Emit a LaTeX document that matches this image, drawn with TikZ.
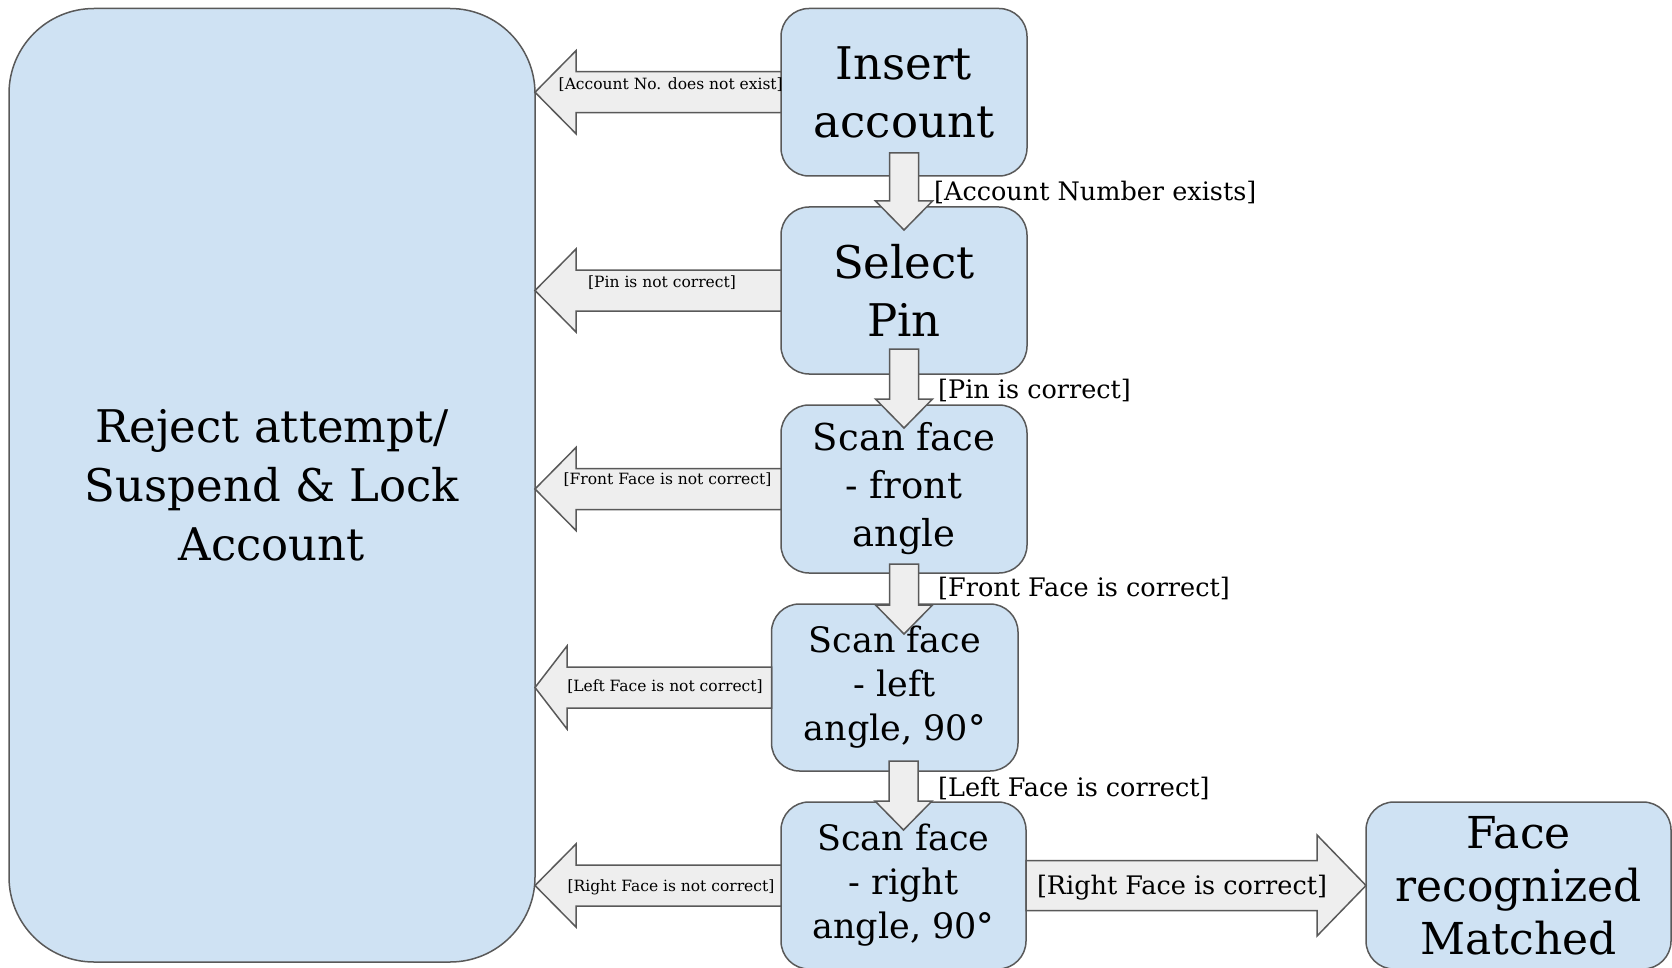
\documentclass[tikz,border=0pt]{standalone}
\usepackage{fontspec}
\setmainfont{DejaVu Serif}
\usetikzlibrary{calc}
\definecolor{boxfill}{HTML}{CFE2F3}
\definecolor{edge}{HTML}{595959}
\definecolor{arrfill}{HTML}{EEEEEE}
% left block arrow: #1 source box, #2 target box, #3 head length
\newcommand\leftblock[3]{%
  \draw[arrowbox] let \p1=(#1.west), \p2=(#2.east) in
    (\x1,{\y1+20.5pt}) -- ({\x2+#3},{\y1+20.5pt}) -- ({\x2+#3},{\y1+41.5pt}) --
    (\x2,\y1) -- ({\x2+#3},{\y1-41.5pt}) -- ({\x2+#3},{\y1-20.5pt}) -- (\x1,{\y1-20.5pt}) -- cycle;}
% down block arrow: #1 upper box, #2 lower box, #3 node giving x, #4 start inside upper, #5 tip depth into lower
\newcommand\downblock[5]{%
  \draw[arrowbox] let \p1=(#1.south), \p2=(#2.north), \p3=(#3.center) in
    ({\x3-14.5pt},{\y1+#4}) -- ({\x3+14.5pt},{\y1+#4}) -- ({\x3+14.5pt},{\y2-#5+29pt}) --
    ({\x3+28.5pt},{\y2-#5+29pt}) -- (\x3,{\y2-#5}) -- ({\x3-28.5pt},{\y2-#5+29pt}) --
    ({\x3-14.5pt},{\y2-#5+29pt}) -- cycle;}
\begin{document}
\begin{tikzpicture}[x=1pt,y=-1pt,
  box/.style={draw=edge, fill=boxfill, line width=1.5pt, rounded corners=28pt,
    inner sep=0pt, outer sep=0pt, align=center, text=black},
  arrowbox/.style={draw=edge, fill=arrfill, line width=1.5pt, line join=miter},
  biglabel/.style={font=\fontsize{25.5}{30}\selectfont, anchor=west, inner sep=0pt},
  smalllabel/.style={font=\fontsize{15.5}{18}\selectfont, inner sep=0pt},
  bigtext/.style={font=\fontsize{45}{57.5}\selectfont},
  midtext/.style={font=\fontsize{37}{48}\selectfont},
  smalltext/.style={font=\fontsize{35}{44}\selectfont}]
\useasboundingbox (0,0) rectangle (1672,968);

% boxes
\node[box, minimum width=526pt, minimum height=953.5pt, rounded corners=85pt,
  font=\fontsize{45}{58.6}\selectfont] (rej) at (272,485.25)
  {Reject attempt/\\Suspend \& Lock\\Account};
\node[box, bigtext, minimum width=246pt, minimum height=167.5pt] (ins) at (904,92.25) {Insert\\account};
\node[box, bigtext, minimum width=246pt, minimum height=167pt] (pin) at (904,290.5) {Select\\Pin};
\node[box, midtext, minimum width=246pt, minimum height=168pt] (front) at (904,489) {Scan face\\- front\\angle};
\node[box, smalltext, minimum width=246.5pt, minimum height=167pt] (leftf) at (894.75,687.5) {Scan face\\- left\\angle, 90°};
\node[box, smalltext, minimum width=245pt, minimum height=167pt] (rightf) at (903.5,885.5) {Scan face\\- right\\angle, 90°};
\node[box, font=\fontsize{44}{53}\selectfont, minimum width=305pt, minimum height=167pt] (face) at (1518.5,885.5) {Face\\recognized\\Matched};

% left block arrows
\leftblock{ins}{rej}{41pt}
\leftblock{pin}{rej}{41pt}
\leftblock{front}{rej}{41pt}
\leftblock{leftf}{rej}{32pt}
\leftblock{rightf}{rej}{41pt}

% down block arrows
\downblock{ins}{pin}{ins}{23pt}{23pt}
\downblock{pin}{front}{pin}{25pt}{23pt}
\downblock{front}{leftf}{front}{9pt}{30pt}
\downblock{leftf}{rightf}{rightf}{10pt}{28pt}

% right block arrow
\draw[arrowbox] let \p1=(rightf.east), \p2=(face.west) in
  (\x1,{\y1+25pt}) -- ({\x2-49pt},{\y1+25pt}) -- ({\x2-49pt},{\y1+50.5pt}) --
  (\x2,\y1) -- ({\x2-49pt},{\y1-50.5pt}) -- ({\x2-49pt},{\y1-25pt}) -- (\x1,{\y1-25pt}) -- cycle;

% labels
\node[smalllabel] (l1) at (670.75,85) {[Account No. does not exist]};
\node[smalllabel] (l2) at (662,282.6) {[Pin is not correct]};
\node[smalllabel] (l3) at (667.5,480) {[Front Face is not correct]};
\node[smalllabel] (l4) at (665,686.7) {[Left Face is not correct]};
\node[smalllabel] (l5) at (671,887) {[Right Face is not correct]};
\node[biglabel] (d1) at (934,192) {[Account Number exists]};
\node[biglabel] (d2) at (938,390) {[Pin is correct]};
\node[biglabel] (d3) at (938,588.6) {[Front Face is correct]};
\node[biglabel] (d4) at (938,788) {[Left Face is correct]};
\node[biglabel, anchor=center] (r1) at (1182,888) {[Right Face is correct]};
\end{tikzpicture}
\end{document}
